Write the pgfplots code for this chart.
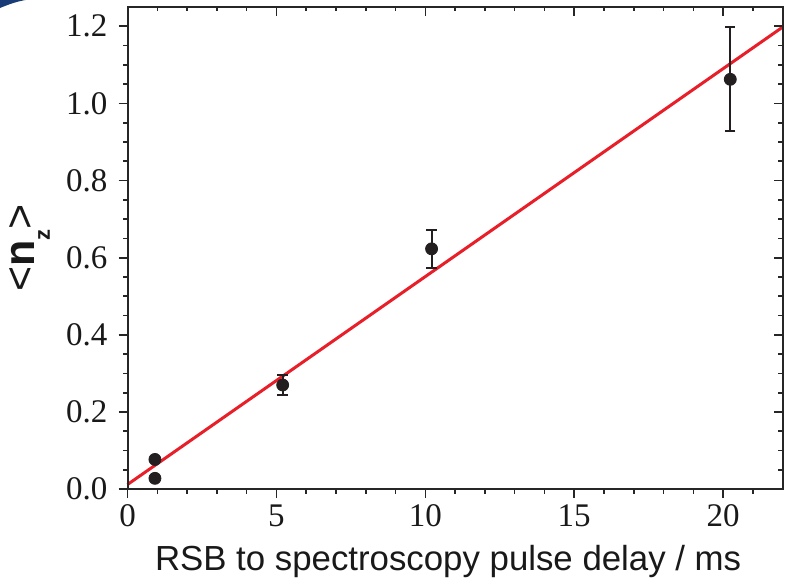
\documentclass[border=0pt]{standalone}
\usepackage{fontspec}
\setmainfont{Liberation Serif}
\setsansfont{Liberation Sans}
\usepackage{pgfplots}
\pgfplotsset{compat=1.18}
\definecolor{fitred}{RGB}{232,30,40}
\definecolor{ptcol}{RGB}{35,31,32}
\definecolor{navy}{RGB}{25,60,120}
\begin{document}
\begin{tikzpicture}
\useasboundingbox (-63.75pt,-45.5pt) rectangle (330.15pt,244.5pt);
\fill[navy] (-63.75pt,240.5pt) .. controls (-59pt,242.5pt) and (-55pt,243.8pt) .. (-51pt,244.5pt) -- (-63.75pt,244.5pt) -- cycle;
% main axis
\begin{axis}[
  at={(0,0)}, anchor=south west,
  scale only axis, width=327.5pt, height=241pt,
  xmin=0, xmax=22, ymin=0, ymax=1.25,
  xtick={0,5,10,15,20}, ytick={0,0.2,0.4,0.6,0.8,1.0,1.2},
  minor xtick={1,2,3,4,6,7,8,9,11,12,13,14,16,17,18,19,21},
  minor ytick={0.05,0.1,0.15,0.25,0.3,0.35,0.45,0.5,0.55,0.65,0.7,0.75,0.85,0.9,0.95,1.05,1.1,1.15},
  xtick pos=bottom, ytick pos=left,
  tick align=outside,
  major tick length=4.5pt, minor tick length=2.2pt,
  every tick/.style={line width=0.8pt, color=black!85},
  axis line style={line width=1pt, color=black!85},
  /pgf/number format/assume math mode=true,
  yticklabel style={/pgf/number format/fixed, /pgf/number format/fixed zerofill, /pgf/number format/precision=1, xshift=-2pt},
  ticklabel style={font=\fontsize{16.5}{18}\selectfont, color=black!90},
  xticklabel style={anchor=base, yshift=-14pt},
  xlabel={RSB to spectroscopy pulse delay / ms},
  xlabel style={font=\sffamily\fontsize{17.4}{20}\selectfont, at={(axis description cs:0.5,0)}, anchor=base, yshift=-40.5pt, xshift=-3.5pt, color=black!90},
  ylabel={<\textbf{n}\raisebox{-0.35em}{\fontsize{11}{12}\selectfont\textbf{z}}>},
  ylabel style={font=\sffamily\fontsize{21.5}{24}\selectfont, at={(axis description cs:-0.149,0.5)}, anchor=center, color=black!90},
  clip=false,
]
\addplot[fitred, line width=1.5pt, no marks] coordinates {(0,0.012) (22,1.198)};
\addplot[only marks, mark=*, mark size=3pt, color=ptcol,
  error bars/.cd, y dir=both, y explicit,
  error bar style={line width=1pt, color=ptcol},
  error mark options={rotate=90, mark size=2.6pt, line width=1pt, color=ptcol}]
  coordinates {
    (0.92,0.077) +- (0,0.003)
    (0.92,0.028) +- (0,0.008)
    (5.21,0.270) +- (0,0.025)
    (10.21,0.623) +- (0,0.050)
    (20.24,1.0625) +- (0,0.135)
  };
\end{axis}
% mirrored inside ticks on top and right
\begin{axis}[
  at={(0,0)}, anchor=south west,
  scale only axis, width=327.5pt, height=241pt,
  xmin=0, xmax=22, ymin=0, ymax=1.25,
  xtick={0,5,10,15,20}, ytick={0,0.2,0.4,0.6,0.8,1.0,1.2},
  minor xtick={1,2,3,4,6,7,8,9,11,12,13,14,16,17,18,19,21},
  minor ytick={0.05,0.1,0.15,0.25,0.3,0.35,0.45,0.5,0.55,0.65,0.7,0.75,0.85,0.9,0.95,1.05,1.1,1.15},
  xtick pos=top, ytick pos=right,
  tick align=inside,
  major tick length=4.5pt, minor tick length=2.2pt,
  every tick/.style={line width=0.8pt, color=black!85},
  axis line style={line width=1pt, color=black!85},
  xticklabels={}, yticklabels={},
]
\end{axis}
\end{tikzpicture}
\end{document}
